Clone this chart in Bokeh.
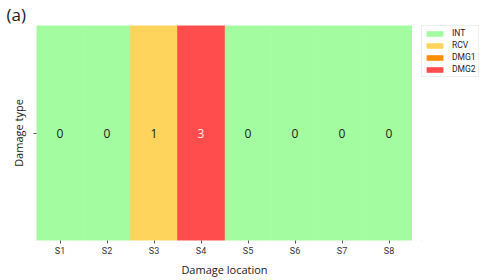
from bokeh.plotting import figure
from bokeh.layouts import row
from bokeh.models import (Range1d, FixedTicker, Legend, LegendItem,
                          ColumnDataSource)
from bokeh.core.properties import value
from bokeh.embed import file_html
from bokeh.resources import INLINE

locations = ["S1", "S2", "S3", "S4", "S5", "S6", "S7", "S8"]
states = [0, 0, 1, 3, 0, 0, 0, 0]
class_labels = ["INT", "RCV", "DMG1", "DMG2"]
class_colors = ["#a4fca0", "#ffd45c", "#ff8c00", "#ff4c4c"]
text_colors = ["#1a1a1a", "#1a1a1a", "#1a1a1a", "#ffe8e8"]

p = figure(width=412, height=280, x_range=locations, y_range=Range1d(0, 1),
           output_backend="svg", toolbar_location=None,
           min_border_left=36, min_border_right=0, min_border_top=24,
           min_border_bottom=40)
p.outline_line_color = None
p.grid.visible = False
p.title.text = "(a)"
p.title.text_font = "Open Sans"
p.title.text_font_style = "normal"
p.title.text_font_size = "17px"
p.title.text_color = "#1a1a1a"
p.title.align = "left"
p.title.offset = -30
p.title.standoff = 0

for k, col in enumerate(class_colors):
    xs = [loc for loc, s in zip(locations, states) if s == k]
    src = ColumnDataSource(dict(x=xs))
    p.vbar(x="x", top=1, bottom=0, width=1.0, source=src,
           fill_color=col, line_color=col, line_width=0.6)

tsrc = ColumnDataSource(dict(x=locations, y=[0.5] * len(locations),
                             t=[str(s) for s in states],
                             c=[text_colors[s] for s in states]))
p.text(x="x", y="y", text="t", source=tsrc, text_color="c",
       text_align="center", text_baseline="middle",
       text_font=value("Open Sans"), text_font_size="12px")

xa = p.xaxis[0]
xa.axis_line_color = None
xa.major_tick_in = 0
xa.major_tick_out = 3
xa.major_tick_line_color = "#555555"
xa.major_label_standoff = 2
xa.major_label_text_font = "Roboto"
xa.major_label_text_font_size = "9px"
xa.major_label_text_color = "#333333"
xa.axis_label = "Damage location"
xa.axis_label_text_font = "Open Sans"
xa.axis_label_text_font_style = "normal"
xa.axis_label_text_font_size = "11px"
xa.axis_label_standoff = 3
xa.axis_label_text_color = "#1a1a1a"

ya = p.yaxis[0]
ya.ticker = FixedTicker(ticks=[0.5])
ya.axis_line_color = None
ya.minor_tick_line_color = None
ya.major_tick_in = 0
ya.major_tick_out = 3
ya.major_tick_line_color = "#555555"
ya.major_label_text_font_size = "0px"
ya.major_label_standoff = 0
ya.axis_label = "Damage type"
ya.axis_label_text_font = "Open Sans"
ya.axis_label_text_font_style = "normal"
ya.axis_label_text_font_size = "11px"
ya.axis_label_standoff = 8
ya.axis_label_text_color = "#1a1a1a"

# legend panel (proxy glyphs lie outside the visible range)
lf = figure(width=68, height=280, x_range=Range1d(0, 1), y_range=Range1d(0, 1),
            output_backend="svg", toolbar_location=None,
            min_border_left=9, min_border_right=0, min_border_top=24,
            min_border_bottom=0)
lf.axis.visible = False
lf.grid.visible = False
lf.outline_line_color = None
items = []
for lab, col in zip(class_labels, class_colors):
    r = lf.vbar(x=[-10], top=[-10], bottom=[-11], width=1.0,
                fill_color=col, line_color=None)
    items.append(LegendItem(label=lab, renderers=[r]))
legend = Legend(items=items, location="top_left", margin=0,
                padding=2, spacing=2, glyph_width=21, glyph_height=7,
                label_height=9, label_standoff=7,
                label_text_font="Roboto",
                label_text_font_size="8.5px",
                label_text_color="#222222",
                border_line_color="#dddddd", border_line_width=1,
                background_fill_alpha=1.0)
lf.add_layout(legend)

layout = row(p, lf)
open("out.html", "w").write(file_html(layout, INLINE))
